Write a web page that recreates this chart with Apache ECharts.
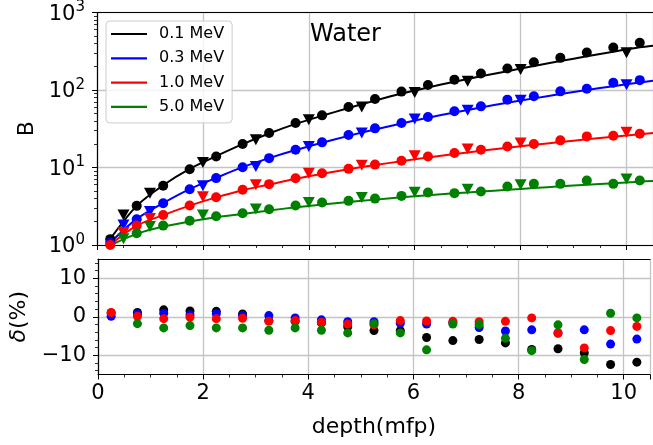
<!DOCTYPE html>
<html>
<head>
<meta charset="utf-8">
<script src="https://cdn.jsdelivr.net/npm/echarts@6/dist/echarts.min.js"></script>
<style>
html,body{margin:0;padding:0;background:#fff;}
#chart{width:653px;height:445px;}
</style>
</head>
<body>
<div id="chart"></div>
<script>
// ---------------- data ----------------
const energies = ['0.1 MeV', '0.3 MeV', '1.0 MeV', '5.0 MeV'];
const colors = ['#000000', '#0000ff', '#ff0000', '#008000'];

const xCircle = [0.25, 0.75, 1.25, 1.75, 2.25, 2.75, 3.25, 3.75, 4.25, 4.75, 5.25, 5.75, 6.25, 6.75, 7.25, 7.75, 8.25, 8.75, 9.25, 9.75, 10.25];
const xTriangle = [0.5, 1, 2, 3, 4, 5, 6, 7, 8, 10];
const xFit = [0.25, 0.75, 1.25, 1.75, 2.25, 2.75, 3.25, 3.75, 4.25, 4.75, 5.25, 5.75, 6.25, 6.75, 7.25, 7.75, 8.25, 8.75, 9.25, 9.75, 10.25, 10.5];

// B values, circles
const circle01 = [1.19, 3.2, 5.8, 9.5, 13.9, 20.1, 27.9, 37.5, 47.1, 60.4, 76.7, 95.3, 116, 136, 163, 189, 228, 260, 305, 354, 407];
const circle03 = [1.07, 2.15, 3.46, 5.25, 7.3, 10.1, 13.2, 16.9, 21.1, 26.2, 32.0, 37.5, 44.9, 53.1, 61.5, 75.1, 82.9, 96, 104, 124, 134];
const circle10 = [1.0, 1.78, 2.44, 3.23, 4.14, 5.15, 6.1, 7.28, 8.45, 9.6, 10.9, 12.2, 13.9, 15.4, 16.9, 18.7, 20.1, 22.4, 25.2, 25.7, 27.3];
const circle50 = [0.98, 1.42, 1.78, 2.06, 2.35, 2.57, 2.9, 3.23, 3.53, 3.71, 3.97, 4.3, 4.75, 4.67, 4.9, 5.68, 6.15, 6.15, 6.79, 6.15, 6.79];

// B values, triangles
const tri01 = [2.44, 4.67, 11.6, 22.8, 41.4, 60.4, 93, 130, 184, 302];
const tri03 = [1.81, 2.7, 5.8, 10.3, 18.7, 27.9, 42.3, 54.7, 73.6, 117];
const tri10 = [1.45, 2.2, 4.2, 5.97, 8.45, 10.7, 14.2, 17.3, 20.7, 28.4];
const tri50 = [1.2, 1.73, 2.44, 2.92, 3.53, 4.09, 4.8, 5.25, 5.97, 7.08];

// fitted curves
const fit01 = [1.2, 3.2, 5.9, 9.6, 14.0, 20.0, 27.5, 36.5, 46.5, 58.5, 73, 90, 108, 128, 150, 175, 204, 236, 272, 312, 355, 372];
const fit03 = [1.07, 2.17, 3.48, 5.27, 7.35, 10.1, 13.2, 16.8, 20.9, 25.6, 31.0, 37.0, 43.8, 51.3, 59.5, 68.5, 78.0, 88.5, 100, 112, 125, 132];
const fit10 = [1.01, 1.78, 2.43, 3.22, 4.12, 5.1, 6.03, 7.15, 8.3, 9.5, 10.75, 12.05, 13.45, 14.9, 16.4, 17.95, 19.6, 21.3, 23.1, 24.9, 26.8, 27.8];
const fit50 = [0.99, 1.39, 1.73, 2.01, 2.28, 2.52, 2.79, 3.06, 3.32, 3.58, 3.85, 4.12, 4.38, 4.64, 4.9, 5.16, 5.44, 5.72, 6.0, 6.28, 6.56, 6.72];

// deviations delta (%)
const delta01 = [1.0, 1.1, 1.8, 1.5, 1.4, 0.7, -1.0, -1.2, -1.6, -2.6, -3.6, -3.6, -5.4, -6.2, -5.9, -6.8, -8.5, -8.3, -9.4, -12.4, -11.8];
const delta03 = [0.1, 0.7, 0.9, 0.5, 0.8, 0.3, 0.3, -0.3, -0.8, -1.3, -1.3, -1.7, -1.9, -1.6, -2.8, -3.7, -3.4, -4.2, -3.4, -7.1, -5.8];
const delta10 = [1.1, 0.1, -0.5, -0.1, -0.5, -0.4, -1.2, -1.0, -1.4, -1.9, -2.1, -1.0, -1.1, -1.2, -1.3, -1.2, -0.3, -4.3, -8.1, -3.6, -2.5];
const delta50 = [null, -1.8, -2.9, -2.3, -2.9, -2.9, -3.5, -2.9, -3.5, -4.2, -1.8, -4.2, -8.6, -1.9, -2.0, -5.6, -8.8, -2.1, -11.1, 0.9, -0.3];

// ticks
const bTickValues = [1, 10, 100, 1000];
const bTickExponents = ['0', '1', '2', '3'];
const bMinorTicks = [2, 3, 4, 5, 6, 7, 8, 9, 20, 30, 40, 50, 60, 70, 80, 90, 200, 300, 400, 500, 600, 700, 800, 900];
const dTickValues = [-10, 0, 10];
const dMinorTicks = [-14, -12, -8, -6, -4, -2, 2, 4, 6, 8, 12, 14];
const xTickValues = [0, 2, 4, 6, 8, 10];

// ---------------- chart ----------------
const FONT = 'DejaVu Sans';
const circles = [circle01, circle03, circle10, circle50];
const tris = [tri01, tri03, tri10, tri50];
const fits = [fit01, fit03, fit10, fit50];
const deltas = [delta01, delta03, delta10, delta50];

const zip = (xs, ys) => xs.map((x, i) => [x, ys[i]]);
const minusFmt = v => (v < 0 ? '\u2212' + Math.abs(v) : String(v));

const gridLine = { show: true, lineStyle: { color: '#c4c4c4', width: 1.3 } };
const axLine = { show: true, onZero: false, lineStyle: { color: '#000', width: 1.2 } };
const tick = { show: true, inside: false, length: 5, lineStyle: { color: '#000', width: 1 } };
const minorTick = { show: true, splitNumber: 4, length: 3, lineStyle: { color: '#000', width: 0.8 } };

const series = [];
for (let k = 0; k < 4; k++) {
  series.push({
    name: energies[k], type: 'line', xAxisIndex: 0, yAxisIndex: 0,
    data: zip(xFit, fits[k]), symbol: 'none', smooth: 0.3,
    lineStyle: { color: colors[k], width: 2 }, itemStyle: { color: colors[k] },
    z: 2, clip: true
  });
  series.push({
    name: energies[k] + ' circ', type: 'scatter', xAxisIndex: 0, yAxisIndex: 0,
    data: zip(xCircle, circles[k]), symbol: 'circle', symbolSize: 10,
    itemStyle: { color: colors[k], opacity: 1 }, z: 3, clip: true
  });
  series.push({
    name: energies[k] + ' tri', type: 'scatter', xAxisIndex: 0, yAxisIndex: 0,
    data: zip(xTriangle, tris[k]), symbol: 'triangle', symbolRotate: 180, symbolSize: [12, 11],
    itemStyle: { color: colors[k], opacity: 1 }, z: 3, clip: true
  });
  series.push({
    name: energies[k] + ' delta', type: 'scatter', xAxisIndex: 1, yAxisIndex: 2,
    data: zip(xCircle, deltas[k]).filter(p => p[1] !== null), symbol: 'circle', symbolSize: 9,
    itemStyle: { color: colors[k], opacity: 1 }, z: 3, clip: true
  });
}

const option = {
  animation: false,
  backgroundColor: '#fff',
  textStyle: { fontFamily: FONT },
  title: {
    text: 'Water', left: 305, top: 18, padding: 5,
    textStyle: { fontFamily: FONT, fontSize: 24, fontWeight: 'normal', color: '#000' }
  },
  legend: {
    data: energies, orient: 'vertical', left: 106, top: 21,
    padding: [5, 8, 8, 5], itemGap: 8.3, itemWidth: 36, itemHeight: 2.2, icon: 'rect',
    backgroundColor: 'rgba(255,255,255,0.8)', borderColor: '#cccccc', borderWidth: 1, borderRadius: 4,
    textStyle: { fontFamily: FONT, fontSize: 16, color: '#000', lineHeight: 16, padding: [0, 0, 0, 7] },
    selectedMode: false
  },
  grid: [
    { left: 97, top: 12.5, width: 557, height: 232.5 },
    { left: 97, top: 259, width: 557, height: 115.5 }
  ],
  xAxis: [
    { type: 'value', gridIndex: 0, min: 0, max: 10.5, interval: 2, axisLine: axLine, axisTick: tick,
      minorTick: minorTick, axisLabel: { show: false }, splitLine: gridLine },
    { type: 'value', gridIndex: 1, min: 0, max: 10.5, interval: 2, axisLine: axLine, axisTick: tick,
      minorTick: minorTick, splitLine: gridLine,
      axisLabel: { show: true, fontFamily: FONT, fontSize: 21, color: '#000', margin: 9,
        formatter: v => (xTickValues.indexOf(v) >= 0 ? minusFmt(v) : '') },
      name: 'depth(mfp)', nameLocation: 'middle', nameGap: 42,
      nameTextStyle: { fontFamily: FONT, fontSize: 22, color: '#000' } },
    { type: 'value', gridIndex: 0, min: 0, max: 10.5, position: 'top', axisLine: axLine,
      axisTick: { show: false }, axisLabel: { show: false }, splitLine: { show: false } },
    { type: 'value', gridIndex: 1, min: 0, max: 10.5, position: 'top', axisLine: axLine,
      axisTick: { show: false }, axisLabel: { show: false }, splitLine: { show: false } }
  ],
  yAxis: [
    { type: 'log', logBase: 10, gridIndex: 0, min: 1, max: 1000, axisLine: axLine, axisTick: tick,
      splitLine: gridLine,
      axisLabel: { show: true, margin: 12, color: '#000',
        formatter: v => {
          const i = bTickValues.indexOf(Math.round(v));
          return i >= 0 ? '{b|10}{s|' + bTickExponents[i] + '}' : '';
        },
        rich: {
          b: { fontFamily: FONT, fontSize: 21, color: '#000', verticalAlign: 'bottom' },
          s: { fontFamily: FONT, fontSize: 15, color: '#000', verticalAlign: 'bottom', padding: [0, 0, 10, 0] }
        } },
      name: 'B', nameLocation: 'middle', nameGap: 56, nameRotate: 90,
      nameTextStyle: { fontFamily: FONT, fontSize: 22, color: '#000' } },
    { type: 'log', logBase: 10, gridIndex: 0, min: 1, max: 1000, position: 'left',
      axisLine: { show: false }, axisLabel: { show: false }, splitLine: { show: false },
      axisTick: { show: true, inside: false, length: 3, customValues: bMinorTicks, lineStyle: { color: '#000', width: 0.8 } } },
    { type: 'value', gridIndex: 1, min: -15, max: 15, interval: 5, axisLine: axLine,
      axisTick: Object.assign({}, tick, { customValues: dTickValues }),
      splitLine: gridLine,
      axisLabel: { show: true, margin: 12, fontFamily: FONT, fontSize: 21, color: '#000',
        customValues: dTickValues, formatter: v => minusFmt(v) },
      name: '{i|δ}(%)', nameLocation: 'middle', nameGap: 68, nameRotate: 90,
      nameTextStyle: { fontFamily: FONT, fontSize: 22, color: '#000',
        rich: { i: { fontFamily: FONT, fontSize: 22, fontStyle: 'italic', color: '#000' } } } },
    { type: 'value', gridIndex: 1, min: -15, max: 15, interval: 5, position: 'left',
      axisLine: { show: false }, axisLabel: { show: false }, splitLine: { show: false },
      axisTick: { show: true, inside: false, length: 3, customValues: dMinorTicks, lineStyle: { color: '#000', width: 0.8 } } }
  ],
  series: series
};

const chart = echarts.init(document.getElementById('chart'), null, { renderer: 'canvas' });
chart.setOption(option);
</script>
</body>
</html>
